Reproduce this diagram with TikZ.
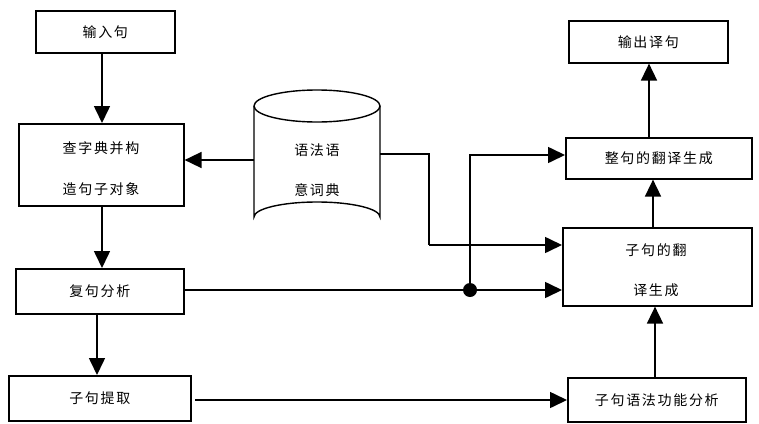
\documentclass[tikz,border=0pt]{standalone}
\usepackage{fontspec}
\setmainfont{Noto Sans CJK SC}[LetterSpace=12]
\usetikzlibrary{arrows.meta,shapes.geometric}
\begin{document}
\begin{tikzpicture}[x=1pt,y=-1pt,
  every node/.style={font=\fontsize{14}{16}\selectfont},
  box/.style={draw,line width=1.6pt,inner sep=0pt,anchor=north west},
  conn/.style={line width=1.6pt,-{Triangle[length=17pt,width=16pt]}},
  plain/.style={line width=1.6pt},
  lbl/.style={inner sep=0pt}]
\useasboundingbox (0,0) rectangle (759,423);
% boxes
\node[box,minimum width=139pt,minimum height=42pt] (in) at (35,10) {输入句};
\node[box,minimum width=165pt,minimum height=82pt] (look) at (18,123) {};
\node[lbl] (lookA) at (101,148) {查字典并构};
\node[lbl] (lookB) at (101,189) {造句子对象};
\node[box,minimum width=168pt,minimum height=45pt] (comp) at (15,268) {复句分析};
\node[box,minimum width=182pt,minimum height=45pt] (ext) at (8,375) {子句提取};
\node[box,minimum width=159pt,minimum height=42pt] (out) at (568,20) {输出译句};
\node[box,minimum width=186pt,minimum height=41pt] (whole) at (565,137) {整句的翻译生成};
\node[box,minimum width=189pt,minimum height=78pt] (clause) at (562,227) {};
\node[lbl] (clA) at (656,250) {子句的翻};
\node[lbl] (clB) at (656,290) {译生成};
\node[box,minimum width=178pt,minimum height=44pt] (func) at (567,377) {子句语法功能分析};
% cylinder
\draw[line width=1.4pt] (254,106) -- (254,217) arc[start angle=180,end angle=360,x radius=63,y radius=15] -- (380,106);
\draw[line width=1.4pt] (317,106) ellipse[x radius=63,y radius=16];
\node[lbl] (dbA) at (317,150) {语法语};
\node[lbl] (dbB) at (317,190) {意词典};
\coordinate (dbL) at (254,160);
\coordinate (dbR) at (380,154);
% connectors
\draw[conn] (in.south -| 102,0) -- (102,123);
\draw[conn] (dbL) -- (look.east |- dbL);
\draw[conn] (102,205) -- (102,268);
\draw[conn] (97,313) -- (97,375);
\coordinate (c1) at (429,154);
\coordinate (c2) at (429,245);
\draw[plain] (dbR) -- (c1) -- (c2);
\draw[conn] (c2) -- (clause.west |- c2);
\coordinate (dot) at (470,290);
\draw[conn] (comp.east |- dot) -- (clause.west |- dot);
\fill (dot) circle[radius=7pt];
\coordinate (d2) at (470,155);
\draw[conn] (dot) -- (d2) -- (whole.west |- d2);
\draw[conn] (195,400) -- (func.west |- 0,400);
\draw[conn] (func.north -| 655,0) -- (clause.south -| 655,0);
\draw[conn] (clause.north -| 653,0) -- (whole.south -| 653,0);
\draw[conn] (whole.north -| 649,0) -- (out.south -| 649,0);
\end{tikzpicture}
\end{document}
